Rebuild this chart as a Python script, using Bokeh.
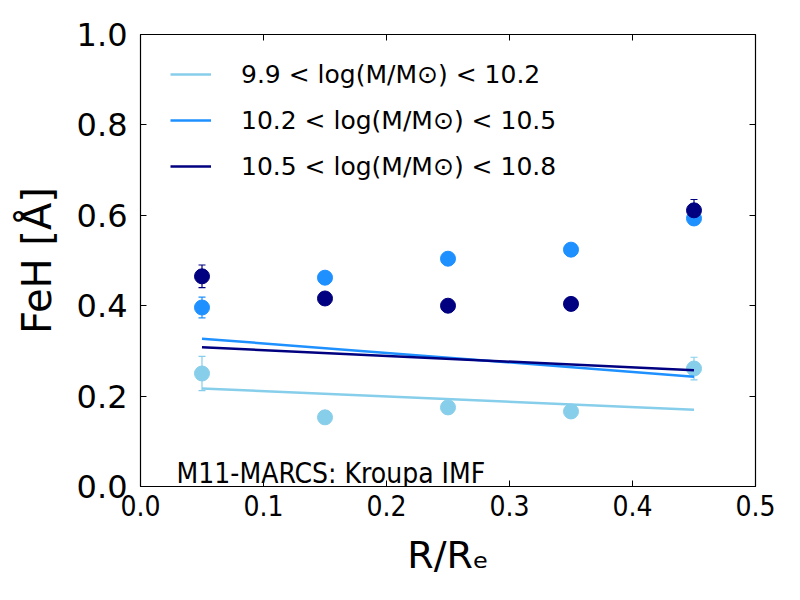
from bokeh.plotting import figure
from bokeh.models import (ColumnDataSource, Whisker, TeeHead, LinearAxis, Range1d,
                          FixedTicker, PrintfTickFormatter, CustomJSTickFormatter, Legend, LegendItem)
from bokeh.core.properties import value
from bokeh.embed import file_html
from bokeh.resources import INLINE

# ---- data ----
radius = [0.05, 0.15, 0.25, 0.35, 0.45]

feh_low = [0.250, 0.153, 0.175, 0.166, 0.261]
err_low = [0.038, 0.010, 0.010, 0.012, 0.025]

feh_mid = [0.396, 0.462, 0.504, 0.524, 0.593]
err_mid = [0.023, 0.006, 0.006, 0.006, 0.010]

feh_high = [0.465, 0.416, 0.400, 0.404, 0.611]
err_high = [0.025, 0.013, 0.010, 0.012, 0.024]

fit_x = [0.05, 0.45]
fit_low = [0.217, 0.170]
fit_mid = [0.327, 0.243]
fit_high = [0.308, 0.257]

labels = ["9.9 < log(M/M\u2299) < 10.2",
          "10.2 < log(M/M\u2299) < 10.5",
          "10.5 < log(M/M\u2299) < 10.8"]
colors = ["#87CEEB", "#1E90FF", "#000080"]

x_ticks = [0.0, 0.1, 0.2, 0.3, 0.4, 0.5]
y_ticks = [0.0, 0.2, 0.4, 0.6, 0.8, 1.0]
annotation = "M11-MARCS: Kroupa IMF"

# ---- figure ----
p = figure(frame_width=615, frame_height=452, output_backend="svg", toolbar_location=None,
           x_range=Range1d(0, 0.5), y_range=Range1d(0, 1),
           min_border_left=140, min_border_right=30, min_border_top=34, min_border_bottom=100)
p.background_fill_color = "white"
p.border_fill_color = "white"
p.grid.visible = False
p.outline_line_color = "black"
p.outline_line_width = 1.2

for ax in (p.xaxis[0], p.yaxis[0]):
    ax.axis_line_color = None
    ax.major_tick_in = 6
    ax.major_tick_out = 0
    ax.minor_tick_line_color = None
    ax.major_tick_line_color = "black"
    ax.major_label_text_color = "black"
    ax.axis_label_text_color = "black"
    ax.axis_label_text_font_style = "normal"

p.xaxis[0].ticker = FixedTicker(ticks=x_ticks)
p.yaxis[0].ticker = FixedTicker(ticks=y_ticks)
p.xaxis[0].formatter = PrintfTickFormatter(format="%.1f")
p.yaxis[0].formatter = PrintfTickFormatter(format="%.1f")

p.xaxis[0].major_label_text_font = "DejaVu Sans Condensed"
p.xaxis[0].major_label_text_font_size = "28px"
p.xaxis[0].major_label_standoff = 8
p.yaxis[0].major_label_text_font = "DejaVu Sans"
p.yaxis[0].major_label_text_font_size = "32px"
p.yaxis[0].major_label_standoff = 13

p.xaxis[0].axis_label = "R/R\u2091"
p.xaxis[0].axis_label_text_font = "DejaVu Sans"
p.xaxis[0].axis_label_text_font_size = "38px"
p.xaxis[0].axis_label_standoff = 14
p.yaxis[0].axis_label = "FeH [\u00c5]"
p.yaxis[0].axis_label_text_font = "DejaVu Sans"
p.yaxis[0].axis_label_text_font_size = "40px"
p.yaxis[0].axis_label_standoff = 14

blank = CustomJSTickFormatter(code="return ''")
top_ax = LinearAxis(ticker=FixedTicker(ticks=x_ticks), formatter=blank, axis_line_color=None,
                    major_tick_in=6, major_tick_out=0, minor_tick_line_color=None,
                    major_label_text_font_size="1px", major_label_standoff=0)
right_ax = LinearAxis(ticker=FixedTicker(ticks=y_ticks), formatter=blank, axis_line_color=None,
                      major_tick_in=6, major_tick_out=0, minor_tick_line_color=None,
                      major_label_text_font_size="1px", major_label_standoff=0)
p.add_layout(top_ax, "above")
p.add_layout(right_ax, "right")

# ---- data points with error bars ----
for vals, errs, col in zip([feh_low, feh_mid, feh_high], [err_low, err_mid, err_high], colors):
    src = ColumnDataSource(dict(x=radius, y=vals,
                                lo=[v - e for v, e in zip(vals, errs)],
                                hi=[v + e for v, e in zip(vals, errs)]))
    w = Whisker(base="x", upper="hi", lower="lo", source=src, line_color=col, line_width=1.2,
                upper_head=TeeHead(size=7, line_color=col, line_width=1.2),
                lower_head=TeeHead(size=7, line_color=col, line_width=1.2))
    p.add_layout(w)
    p.scatter("x", "y", source=src, size=15, fill_color=col, line_color=col)

# ---- fit lines ----
items = []
for fit, col, lab in zip([fit_low, fit_mid, fit_high], colors, labels):
    r = p.line(fit_x, fit, line_color=col, line_width=2.5)
    items.append(LegendItem(label=lab, renderers=[r]))

legend = Legend(items=items, location=(30, 300), border_line_color=None,
                background_fill_alpha=0, padding=0, margin=0, spacing=6,
                glyph_width=41, glyph_height=40, label_standoff=30,
                label_text_font="DejaVu Sans", label_text_font_size="25px",
                label_text_color="black", label_height=40)
p.add_layout(legend)

p.text(x=[0.0293], y=[0.0288], text=[annotation], text_font=value("DejaVu Sans Condensed"),
       text_font_size="28px", text_baseline="alphabetic", text_align="left", text_color="black")

open("out.html", "w").write(file_html(p, INLINE))
